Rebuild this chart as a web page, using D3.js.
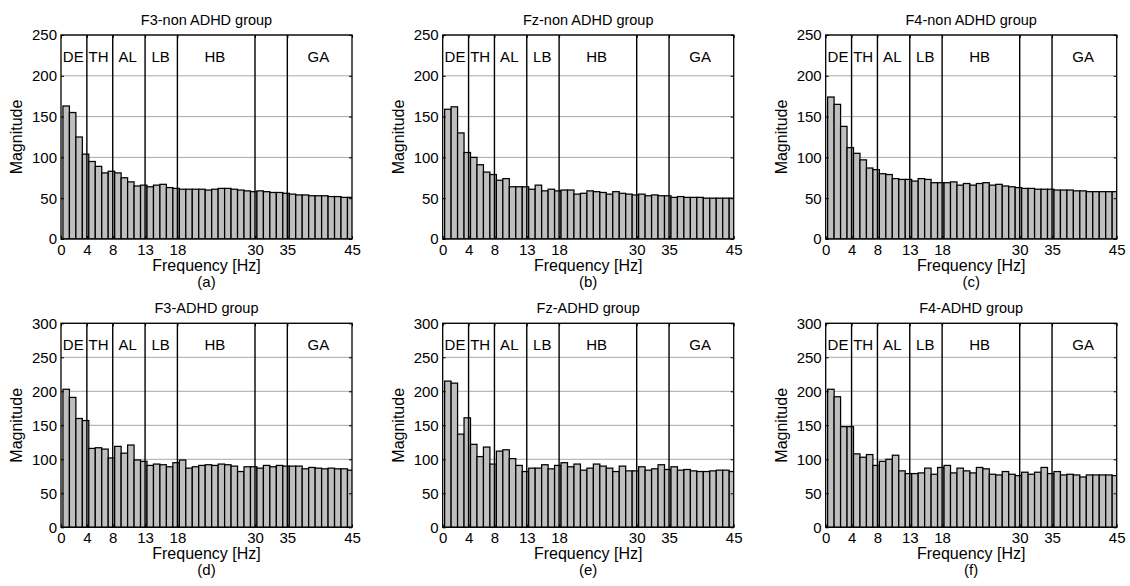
<!DOCTYPE html>
<html>
<head>
<meta charset="utf-8">
<script src="https://cdn.jsdelivr.net/npm/d3@7"></script>
<style>
  body { margin: 0; background: #fff; }
  text { font-family: Arial, "Liberation Sans", sans-serif; fill: #000; }
</style>
</head>
<body>
<script>
// frequency bins (Hz)
var freqs = [1,2,3,4,5,6,7,8,9,10,11,12,13,14,15,16,17,18,19,20,21,22,23,24,25,
             26,27,28,29,30,31,32,33,34,35,36,37,38,39,40,41,42,43,44,45];

// magnitudes
var f3Non  = [163,155,125,104,95,89,81,83,81,75,70,65,66,64,66,67,63,62,61,61,61,61,60,61,62,
              62,61,60,59,58,59,58,57,57,56,55,54,54,53,53,53,52,52,51,51];
var fzNon  = [159,162,130,106,100,91,82,79,72,74,64,64,64,61,66,59,61,59,60,60,55,56,59,58,57,
              55,58,56,55,54,55,53,54,53,53,51,52,51,51,51,50,50,50,50,50];
var f4Non  = [174,165,138,112,105,97,87,85,80,79,74,73,73,71,74,73,69,69,69,70,66,68,66,68,69,
              66,67,65,64,63,62,62,61,61,61,60,60,60,59,59,58,58,58,58,58];
var f3Adhd = [203,191,160,157,116,117,115,102,119,109,121,99,97,91,93,92,89,95,99,87,89,91,92,91,93,
              92,90,82,89,89,87,91,89,91,90,90,90,86,88,87,86,87,86,86,84];
var fzAdhd = [215,212,137,161,122,104,118,93,112,114,101,91,82,87,87,92,86,91,95,89,93,84,87,93,90,
              87,82,90,83,83,89,84,86,92,85,89,84,85,83,82,82,83,84,84,82];
var f4Adhd = [203,192,148,148,108,103,107,91,97,100,106,83,79,79,80,87,78,88,91,80,87,83,80,88,86,
              78,77,82,78,76,81,78,81,88,79,82,77,78,77,74,77,77,77,77,76];

var titles = ['F3-non ADHD group', 'Fz-non ADHD group', 'F4-non ADHD group',
              'F3-ADHD group', 'Fz-ADHD group', 'F4-ADHD group'];
var tags = ['(a)', '(b)', '(c)', '(d)', '(e)', '(f)'];

var xTicks = [0, 4, 8, 13, 18, 30, 35, 45];
var yTicksTop = [0, 50, 100, 150, 200, 250];
var yTicksBottom = [0, 50, 100, 150, 200, 250, 300];

var bandEdges = [4, 8, 13, 18, 30, 35];
var bandNames = ['DE', 'TH', 'AL', 'LB', 'HB', 'GA'];
var bandCentres = [1.9, 5.8, 10.3, 15.4, 23.8, 39.8];

var series = [f3Non, fzNon, f4Non, f3Adhd, fzAdhd, f4Adhd];

var width = 1130, height = 586;
var colLeft = [61, 442.7, 825.7], rowTop = [35, 323.3];
var plotW = 291, plotH = 204;

var svg = d3.select('body').append('svg')
    .attr('width', width).attr('height', height);

series.forEach(function (values, i) {
    var col = i % 3, row = Math.floor(i / 3);
    var yTicks = row === 0 ? yTicksTop : yTicksBottom;
    var g = svg.append('g')
        .attr('transform', 'translate(' + colLeft[col] + ',' + rowTop[row] + ')');

    var x = d3.scaleLinear().domain([0, 45]).range([0, plotW]);
    var y = d3.scaleLinear().domain([0, d3.max(yTicks)]).range([plotH, 0]);

    // horizontal grid
    g.selectAll('.grid').data(yTicks).enter().append('line')
        .attr('x1', 0).attr('x2', plotW)
        .attr('y1', function (d) { return y(d); })
        .attr('y2', function (d) { return y(d); })
        .attr('stroke', '#a8a8a8').attr('stroke-width', 1);

    var clipId = 'clip' + i;
    g.append('clipPath').attr('id', clipId).append('rect')
        .attr('width', plotW).attr('height', plotH);

    // bars (bins slightly left of the integer frequency)
    g.append('g').attr('clip-path', 'url(#' + clipId + ')')
        .selectAll('rect').data(freqs).enter().append('rect')
        .attr('x', function (f) { return x(f - 0.7); })
        .attr('width', x(1) - x(0))
        .attr('y', function (f, j) { return y(values[j]); })
        .attr('height', function (f, j) { return plotH - y(values[j]); })
        .attr('fill', '#bfbfbf')
        .attr('stroke', '#000').attr('stroke-width', 1.25);

    // band separators
    g.selectAll('.band').data(bandEdges).enter().append('line')
        .attr('x1', function (d) { return x(d); })
        .attr('x2', function (d) { return x(d); })
        .attr('y1', 0).attr('y2', plotH)
        .attr('stroke', '#000').attr('stroke-width', 1.4);

    g.selectAll('.bandName').data(bandNames).enter().append('text')
        .attr('x', function (d, j) { return x(bandCentres[j]); })
        .attr('y', 26.5)
        .attr('text-anchor', 'middle')
        .style('font-size', '15px')
        .text(function (d) { return d; });

    // axes with inward ticks
    var left = g.append('g')
        .call(d3.axisLeft(y).tickValues(yTicks).tickSizeInner(-3).tickSizeOuter(0).tickPadding(4));
    g.append('g').attr('transform', 'translate(' + plotW + ',0)')
        .call(d3.axisRight(y).tickValues(yTicks).tickSizeInner(-3).tickSizeOuter(0).tickFormat(''));
    var bottom = g.append('g').attr('transform', 'translate(0,' + plotH + ')')
        .call(d3.axisBottom(x).tickValues(xTicks).tickSizeInner(-3).tickSizeOuter(0).tickPadding(5));
    g.append('g')
        .call(d3.axisTop(x).tickValues(xTicks).tickSizeInner(-3).tickSizeOuter(0).tickFormat(''));

    g.selectAll('.domain').remove();
    g.selectAll('.tick line').attr('stroke', '#000');
    [left, bottom].forEach(function (a) {
        a.selectAll('text').attr('font-family', null).attr('font-size', null)
            .style('font-size', '15px');
    });

    // box
    g.append('rect').attr('width', plotW).attr('height', plotH)
        .attr('fill', 'none').attr('stroke', '#000').attr('stroke-width', 1.3);

    // labels
    g.append('text')
        .attr('x', plotW / 2).attr('y', -10.5)
        .attr('text-anchor', 'middle')
        .style('font-size', '14.5px')
        .text(titles[i]);

    g.append('text')
        .attr('transform', 'translate(-39,' + plotH / 2 + ') rotate(-90)')
        .attr('text-anchor', 'middle')
        .style('font-size', '16px')
        .text('Magnitude');

    g.append('text')
        .attr('x', plotW / 2).attr('y', plotH + 32)
        .attr('text-anchor', 'middle')
        .style('font-size', '16px')
        .text('Frequency [Hz]');

    g.append('text')
        .attr('x', plotW / 2).attr('y', plotH + 48)
        .attr('text-anchor', 'middle')
        .style('font-size', '15px')
        .text(tags[i]);
});
</script>
</body>
</html>
